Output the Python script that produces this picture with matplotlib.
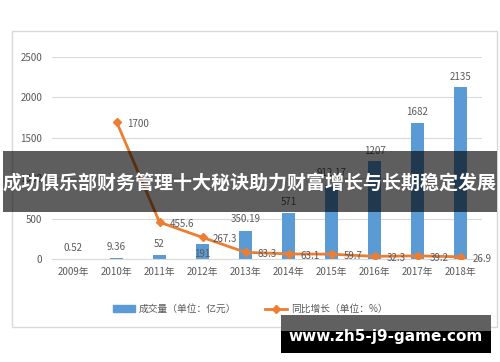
import matplotlib.pyplot as plt
import numpy as np
from matplotlib.patches import Rectangle
from matplotlib.lines import Line2D
from matplotlib.patches import Patch

plt.rcParams['font.family'] = ['Noto Sans CJK SC', 'DejaVu Sans']

# 数据
anios = ['2009年', '2010年', '2011年', '2012年', '2013年',
         '2014年', '2015年', '2016年', '2017年', '2018年']
volumen = [0.52, 9.36, 52, 191, 350.19, 571, 912.17, 1207, 1682, 2135]
volumen_txt = ['0.52', '9.36', '52', '191', '350.19', '571', '912.17', '1207', '1682', '2135']
crecimiento = [None, 1700, 455.6, 267.3, 83.3, 63.1, 59.7, 32.3, 39.2, 26.9]
crecimiento_txt = ['', '1700', '455.6', '267.3', '83.3', '63.1', '59.7', '32.3', '39.2', '26.9']
yticks = [0, 500, 1000, 1500, 2000, 2500]

titulo = '成功俱乐部财务管理十大秘诀助力财富增长与长期稳定发展'
marca = 'www.zh5-j9-game.com'

azul = '#5b9bd5'
naranja = '#ed7d31'
gris = '#595959'

fig = plt.figure(figsize=(5, 3.62), dpi=100)
ax = fig.add_axes([0.104, 0.2845, 0.86, 0.558])

x = np.arange(len(anios))
ax.bar(x, volumen, width=0.31, color=azul, zorder=2)

xs = [i for i, v in enumerate(crecimiento) if v is not None]
ys = [v for v in crecimiento if v is not None]
ax.plot(xs, ys, color=naranja, lw=2, marker='D', markersize=4.5, zorder=3)

# etiquetas de barras (desplazamiento vertical en pixeles)
desp_barra = [11, 11, 11, -10, 12, 11, 12, 10, 11, 10]
for i, v in enumerate(volumen):
    ax.annotate(volumen_txt[i], (x[i], v), xytext=(0, desp_barra[i]),
                textcoords='offset pixels', ha='center', va='center',
                fontsize=7, color=gris, zorder=4)

# etiquetas de la linea
for i, v in enumerate(crecimiento):
    if v is None:
        continue
    ax.annotate(crecimiento_txt[i], (x[i], v), xytext=(22, -2),
                textcoords='offset pixels', ha='center', va='center',
                fontsize=7, color=gris, zorder=4)

ax.set_xlim(-0.5, len(anios) - 0.5)
ax.set_ylim(0, 2500)
ax.set_yticks(yticks)
ax.set_xticks(x)
ax.set_xticklabels(anios)
ax.tick_params(axis='both', length=0, labelsize=7, colors=gris)
ax.tick_params(axis='y', pad=7)
ax.tick_params(axis='x', pad=6)
ax.grid(axis='y', color='#d9d9d9', lw=0.8, zorder=0)
ax.set_axisbelow(True)
for s in ['top', 'right', 'left']:
    ax.spines[s].set_visible(False)
ax.spines['bottom'].set_color('#d9d9d9')

# leyenda
handles = [Patch(color=azul), Line2D([0], [0], color=naranja, lw=2, marker='D', markersize=4)]
ax.legend(handles, ['成交量（单位：亿元）', '同比增长（单位：%）'], ncol=2,
          loc='center', bbox_to_anchor=(0.5, 1 - 309 / 362),
          bbox_transform=fig.transFigure, frameon=False, fontsize=7,
          labelcolor=gris, handlelength=2.3, handletextpad=0.4, columnspacing=2.9)

# borde del grafico
fig.add_artist(Rectangle((0.024, 1 - 327 / 362), 0.97, 296 / 362, transform=fig.transFigure,
                         fill=False, edgecolor='#d9d9d9', lw=1, zorder=1))

# banda del titulo
fig.add_artist(Rectangle((0.006, 1 - 212 / 362), 0.988, 61 / 362, transform=fig.transFigure,
                         facecolor='black', alpha=0.63, edgecolor='none', zorder=10))
fig.text(0.5, 1 - 183 / 362, titulo, ha='center', va='center', fontsize=13.7,
         fontweight='bold', color='white', zorder=11)

# marca de agua
fig.add_artist(Rectangle((281 / 500, 1 - 331 / 362), 210 / 500, 16 / 362, transform=fig.transFigure,
                         facecolor='#606060', edgecolor='none', zorder=10))
fig.add_artist(Rectangle((281 / 500, 1 - 353 / 362), 210 / 500, 22 / 362, transform=fig.transFigure,
                         facecolor='black', edgecolor='none', zorder=10))
fig.text(386 / 500, 1 - 337 / 362, marca, ha='center', va='center', fontsize=11,
         fontweight='bold', color='white', zorder=11, family='DejaVu Sans')

plt.savefig('out.png', dpi=100)
plt.close()
